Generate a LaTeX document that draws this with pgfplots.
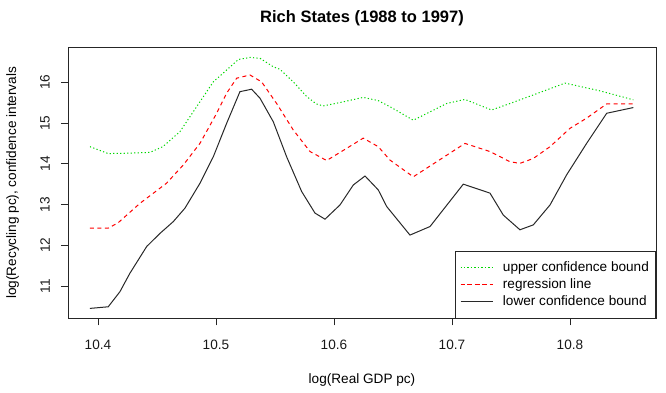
\documentclass[border=0pt]{standalone}
\usepackage{pgfplots}
\pgfplotsset{compat=1.18}
\usepackage{pgfplotstable}
\usepackage{fontspec}
\setmainfont{Liberation Sans}
\definecolor{rgreen}{RGB}{0,215,0}
\definecolor{rred}{RGB}{255,0,0}
\definecolor{rblack}{RGB}{40,40,40}

\pgfplotstableread{
x y
10.3932 14.42
10.4087 14.25
10.4250 14.26
10.4440 14.28
10.4550 14.42
10.4695 14.79
10.4836 15.40
10.4977 16.01
10.5090 16.30
10.5190 16.56
10.5288 16.61
10.5373 16.59
10.5486 16.38
10.5542 16.32
10.5655 16.01
10.5769 15.65
10.5850 15.47
10.5909 15.42
10.6079 15.52
10.6248 15.63
10.6375 15.55
10.6475 15.40
10.6672 15.07
10.6955 15.48
10.7110 15.58
10.7336 15.32
10.7492 15.48
10.7689 15.69
10.7958 15.98
10.8254 15.79
10.8537 15.57
}\uppertab

\pgfplotstableread{
x y
10.3932 12.42
10.4087 12.42
10.4170 12.55
10.4356 13.03
10.4580 13.52
10.4723 13.97
10.4864 14.50
10.5006 15.24
10.5090 15.73
10.5175 16.10
10.5288 16.18
10.5387 16.01
10.5514 15.48
10.5655 14.83
10.5797 14.30
10.5938 14.08
10.6108 14.38
10.6248 14.63
10.6375 14.42
10.6475 14.09
10.6672 13.68
10.6870 14.05
10.7110 14.50
10.7322 14.30
10.7492 14.05
10.7576 14.01
10.7689 14.13
10.7831 14.42
10.8000 14.87
10.8141 15.12
10.8311 15.47
10.8537 15.47
}\regtab

\pgfplotstableread{
x y
10.3932 10.45
10.4087 10.49
10.4186 10.86
10.4270 11.31
10.4413 11.97
10.4525 12.29
10.4638 12.58
10.4737 12.91
10.4864 13.52
10.4977 14.17
10.5090 14.99
10.5203 15.77
10.5302 15.83
10.5373 15.61
10.5486 15.03
10.5599 14.17
10.5726 13.32
10.5839 12.79
10.5924 12.64
10.6051 12.99
10.6164 13.48
10.6263 13.70
10.6375 13.36
10.6447 12.95
10.6644 12.25
10.6814 12.46
10.7096 13.50
10.7322 13.28
10.7435 12.74
10.7576 12.38
10.7689 12.50
10.7831 12.99
10.7972 13.73
10.8141 14.50
10.8311 15.24
10.8537 15.38
}\lowertab

\begin{document}
\begin{tikzpicture}
\useasboundingbox (-68pt,-73.7pt) rectangle (598pt,318.3pt);
\begin{axis}[
  scale only axis,
  width=588pt, height=271pt,
  xmin=10.3746, xmax=10.8729,
  ymin=10.207, ymax=16.859,
  xtick={10.4,10.5,10.6,10.7,10.8},
  ytick={11,12,13,14,15,16},
  xticklabels={10.4,10.5,10.6,10.7,10.8},
  yticklabels={11,12,13,14,15,16},
  xtick pos=bottom, ytick pos=left,
  tick align=outside,
  major tick length=7pt,
  tick style={line width=0.8pt, black!85},
  axis line style={line width=0.8pt, black!85},
  ticklabel style={font=\fontsize{13.6}{16}\selectfont, text=black!90},
  /pgf/number format/assume math mode=true,
  xticklabel style={anchor=north, inner sep=0pt},
  yticklabel style={rotate=90, anchor=south, inner sep=0pt},
  xticklabel shift=14pt,
  yticklabel shift=11pt,
  title={Rich States (1988 to 1997)},
  title style={at={(axis description cs:0.5,1.085)}, anchor=center, font=\bfseries\fontsize{16.5}{20}\selectfont},
  xlabel={log(Real GDP pc)},
  xlabel style={at={(axis description cs:0.5,-0.2288)}, anchor=center, font=\fontsize{13.6}{16}\selectfont},
  ylabel={log(Recycling pc), confidence intervals},
  ylabel style={at={(axis description cs:-0.0944,0.5)}, anchor=center, font=\fontsize{13.6}{16}\selectfont},
  legend cell align=left,
  legend image code/.code={\path (0pt,0pt) -- (32.6pt,0pt); \draw[#1] (6.6pt,0pt) -- (32.6pt,0pt);},
  legend style={at={(axis description cs:1,0)}, anchor=south east, draw=black!85, line width=0.8pt,
    font=\fontsize{13.6}{16}\selectfont, inner xsep=4.7pt, inner ysep=7.8pt, row sep=0pt,
    column sep=7.3pt,
    nodes={inner sep=2pt, text height=10pt, text depth=3pt}},
]
\addplot[color=rgreen, line width=1pt, dash pattern=on 1.2pt off 2.3pt] table[x=x,y=y] {\uppertab};
\addlegendentry{upper confidence bound}
\addplot[color=rred, line width=1pt, dash pattern=on 4pt off 3.5pt] table[x=x,y=y] {\regtab};
\addlegendentry{regression line}
\addplot[color=rblack, line width=1pt] table[x=x,y=y] {\lowertab};
\addlegendentry{lower confidence bound}
\end{axis}
\end{tikzpicture}
\end{document}
